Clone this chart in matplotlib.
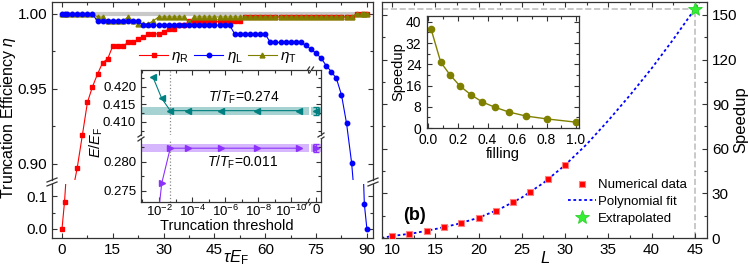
import numpy as np
import matplotlib.pyplot as plt
from matplotlib.lines import Line2D
from matplotlib.ticker import (MultipleLocator, FixedLocator, NullFormatter,
                               FormatStrFormatter, LogFormatterMathtext)

plt.rcParams['font.family'] = ['Liberation Sans', 'DejaVu Sans']
plt.rcParams['mathtext.fontset'] = 'custom'
plt.rcParams['mathtext.rm'] = 'Liberation Sans'
plt.rcParams['mathtext.it'] = 'Liberation Sans:italic'
plt.rcParams['mathtext.bf'] = 'Liberation Sans:bold'
plt.rcParams['axes.linewidth'] = 0.9
plt.rcParams['axes.edgecolor'] = '#333333'

# ---------------- data: left panel (truncation efficiency vs tau*E_F)
tau = [0, 0.75] + list(np.arange(1.5, 88.6, 1.5)) + [89.25, 90]
eta_R = [0.000, 0.083, 0.20, 0.88, 0.8975, 0.919, 0.941, 0.9515, 0.960, 0.9675,
         0.9702, 0.9787, 0.9787, 0.9787, 0.981, 0.981, 0.9833, 0.9845, 0.9867, 0.9867,
         0.9867, 0.9882, 0.9898, 0.9898, 0.9925, 0.9925, 0.995, 0.995, 0.995, 0.995,
         0.995, 0.995, 0.995, 0.995, 0.995, 0.995, 0.995, 0.998, 0.998, 0.998,
         0.998, 0.998, 0.998, 0.998, 0.998, 0.998, 0.998, 0.998, 0.998, 0.998,
         0.998, 0.998, 0.998, 0.998, 0.998, 0.998, 0.998, 0.998, 0.998, 1.000,
         1.000, 1.000, 1.000]
eta_L = [1.000, 1.000, 1.000, 1.000, 1.000, 1.000, 1.000, 1.000, 0.995, 0.995,
         0.995, 0.995, 0.995, 0.995, 0.995, 0.995, 0.995, 0.9925, 0.9925, 0.9925,
         0.9925, 0.9925, 0.9925, 0.9925, 0.9925, 0.9925, 0.9925, 0.9925, 0.9925, 0.9925,
         0.9925, 0.9925, 0.9925, 0.9925, 0.9925, 0.9865, 0.9865, 0.9865, 0.9865, 0.9865,
         0.9865, 0.9865, 0.981, 0.981, 0.981, 0.981, 0.981, 0.981, 0.981, 0.979,
         0.9765, 0.9738, 0.9705, 0.9655, 0.9615, 0.957, 0.946, 0.927, 0.9005, 0.86,
         0.30, 0.075, 0.000]
eta_T = [1.000, 1.000, 1.000, 1.000, 1.000, 1.000, 1.000, 1.000, 0.998, 0.998,
         0.9955, 0.9955, 0.9955, 0.9955, 0.998, 0.9955, 0.9935, 0.9935, 0.9935, 0.9955,
         0.998, 0.998, 0.998, 0.998, 0.998, 0.998, 0.9945, 0.998, 0.998, 0.998,
         0.998, 0.998, 0.998, 0.998, 0.998, 0.998, 0.998, 0.998, 0.998, 0.998,
         0.998, 0.998, 0.998, 0.998, 0.998, 0.998, 0.998, 0.998, 0.998, 0.998,
         0.998, 0.998, 0.998, 0.998, 0.998, 0.998, 0.998, 0.998, 0.998, 1.000,
         1.000, 1.000, 1.000]
eta_ref = 1.0

# inset: energy vs truncation threshold
thr = [2.4e-2, 6.9e-3, 2.1e-3, 1.7e-4, 1.9e-6, 1.2e-8, 3.6e-11]
E_hot = [0.4229, 0.4167, 0.4132, 0.4132, 0.4132, 0.4132, 0.4132]
E_cold = [0.262, 0.2763, 0.2823, 0.2823, 0.2823, 0.2823, 0.2823]
E0_hot, dE0_hot = 0.4131, 0.0012
E0_cold, dE0_cold = 0.2823, 0.0007
thr_chosen = 2.1e-3

# ---------------- data: right panel (speedup vs L)
L_num = [10, 12, 14, 16, 18, 20, 22, 24, 26, 28, 30]
S_num = [1.3, 2.7, 4.9, 7.2, 9.9, 13.2, 18.4, 24.4, 30.9, 39.9, 49.1]
L_fit = [8.8, 10, 12.5, 15, 17.5, 20, 22.5, 25, 27.5, 30, 32.5, 35, 37.5, 40, 42.5, 45, 46.5]
S_fit = [0.0, 1.3, 3.2, 6.0, 9.3, 13.6, 19.6, 27.2, 37.0, 49.0, 63.0, 79.0, 96.0, 114.0, 133.5, 154.0, 167.0]
L_star, S_star = 45, 153.8

# right inset: speedup vs filling
filling = [0.017, 0.083, 0.146, 0.214, 0.288, 0.365, 0.451, 0.546, 0.661, 0.805, 1.0]
speedup_f = [37.4, 24.8, 20.0, 15.8, 12.5, 9.8, 7.8, 6.0, 4.5, 3.4, 2.2]

W, H = 748, 270
fig = plt.figure(figsize=(W / 100, H / 100), dpi=100)


def box(x0, y0, x1, y1):
    # pixel box (top-left origin) -> figure fraction
    return [x0 / W, 1 - y1 / H, (x1 - x0) / W, (y1 - y0) / H]


def P(x, y):
    return x / W, 1 - y / H


def ticks(ax, size=11):
    ax.tick_params(which='both', direction='in', width=0.8, colors='#333333',
                   labelcolor='black', labelsize=size)
    ax.tick_params(which='major', length=3.5)
    ax.tick_params(which='minor', length=2)


def brk(x, y, vertical_spine=True, s=5):
    # two short slanted strokes on a spine, pixel coords
    for d in (-2, 2):
        if vertical_spine:
            xs, ys = [x - s, x + s], [y + d + 2, y + d - 2]
        else:
            xs, ys = [x + d - 2, x + d + 2], [y + s, y - s]
        p = [P(a, b) for a, b in zip(xs, ys)]
        fig.add_artist(Line2D([p[0][0], p[1][0]], [p[0][1], p[1][1]],
                              color='#333333', lw=0.9))


# ---------------- left panel
ax_up = fig.add_axes(box(52, 1.5, 373, 180))
ax_lo = fig.add_axes(box(52, 184, 373, 238))
for ax in (ax_up, ax_lo):
    ax.hlines(eta_ref, tau[0], tau[-1], color='#c8c8c8', lw=3, zorder=1)
    lr, = ax.plot(tau, eta_R, 's-', color='red', ms=3, lw=0.8, zorder=2)
    lt, = ax.plot(tau, eta_T, '^-', color='#808000', ms=3.5, lw=0.8, zorder=3)
    ll, = ax.plot(tau, eta_L, 'o-', color='blue', ms=3.2, lw=0.8, zorder=4)
    ax.set_xlim(-2.95, 91.8)
    ax.xaxis.set_major_locator(MultipleLocator(15))
    ax.xaxis.set_minor_locator(MultipleLocator(7.5))
    ticks(ax)

ax_up.set_ylim(0.8893, 1.0083)
ax_up.yaxis.set_major_locator(MultipleLocator(0.05))
ax_up.yaxis.set_minor_locator(MultipleLocator(0.025))
ax_up.yaxis.set_major_formatter(FormatStrFormatter('%.2f'))
ax_up.spines['bottom'].set_visible(False)
ax_up.tick_params(which='both', bottom=False, labelbottom=False, top=True, right=True)

ax_lo.set_ylim(-0.0273, 0.1364)
ax_lo.yaxis.set_major_locator(MultipleLocator(0.1))
ax_lo.yaxis.set_minor_locator(MultipleLocator(0.05))
ax_lo.yaxis.set_major_formatter(FormatStrFormatter('%.1f'))
ax_lo.spines['top'].set_visible(False)
ax_lo.tick_params(which='both', top=False, right=True)

brk(52, 182)
brk(373, 182)

ax_up.legend([lr, ll, lt], [r'$\eta_{\rm R}$', r'$\eta_{\rm L}$', r'$\eta_{\rm T}$'],
             ncol=3, loc='center', bbox_to_anchor=P(218, 57),
             bbox_transform=fig.transFigure, frameon=False, fontsize=11,
             handlelength=1.9, columnspacing=0.35, handletextpad=0.2,
             borderpad=0)

fig.text(*P(9, 117), r'Truncation Efficiency $\eta$', rotation=90,
         ha='center', va='center', fontsize=11.5)
fig.text(*P(236, 258), r'$\tau E_{\rm F}$', ha='center', va='center', fontsize=12)

# ---------------- left inset (broken in x and y)
teal, purple = '#008080', '#8c32fa'
iu = fig.add_axes(box(141, 70, 308.5, 135))
il = fig.add_axes(box(141, 139, 308.5, 202))
iur = fig.add_axes(box(310.5, 70, 321, 135))
ilr = fig.add_axes(box(310.5, 139, 321, 202))
for ax in (iu, il, iur, ilr):
    ax.set_zorder(5)
    ax.set_facecolor('white')
    ticks(ax, 9.5)
    ax.tick_params(axis='x', pad=1.5)

iu.plot(thr, E_hot, '<-', color=teal, ms=4, lw=0.8, zorder=3)
il.plot(thr, E_cold, '>-', color=purple, ms=4, lw=0.8, zorder=3)
iu.axhspan(E0_hot - dE0_hot, E0_hot + dE0_hot, color=teal, alpha=0.35, lw=0)
il.axhspan(E0_cold - dE0_cold, E0_cold + dE0_cold, color=purple, alpha=0.35, lw=0)
iur.axhspan(E0_hot - dE0_hot, E0_hot + dE0_hot, color=teal, alpha=0.35, lw=0)
ilr.axhspan(E0_cold - dE0_cold, E0_cold + dE0_cold, color=purple, alpha=0.35, lw=0)
iur.errorbar([0], [E0_hot], yerr=[dE0_hot], fmt='<', color=teal, ms=4,
             capsize=2, elinewidth=0.8)
ilr.errorbar([0], [E0_cold], yerr=[dE0_cold], fmt='>', color=purple, ms=4,
             capsize=2, elinewidth=0.8)
for ax in (iu, il):
    ax.axvline(thr_chosen, color='#888888', ls=':', lw=0.9, zorder=1)
    ax.set_xscale('log')
    ax.set_xlim(10 ** -0.91, 10 ** -11.03)
    ax.xaxis.set_major_locator(FixedLocator([1e-2, 1e-4, 1e-6, 1e-8, 1e-10]))
    ax.xaxis.set_minor_locator(FixedLocator([1e-1, 1e-3, 1e-5, 1e-7, 1e-9, 1e-11]))
    ax.xaxis.set_major_formatter(LogFormatterMathtext())
    ax.xaxis.set_minor_formatter(NullFormatter())
    ax.spines['right'].set_visible(False)
for ax in (iur, ilr):
    ax.set_xlim(-1.1, 0.9)
    ax.xaxis.set_major_locator(FixedLocator([0]))
    ax.spines['left'].set_visible(False)
    ax.tick_params(which='both', left=False, labelleft=False, right=True)

iu.set_ylim(0.40625, 0.4248)
iur.set_ylim(0.40625, 0.4248)
il.set_ylim(0.27312, 0.28387)
ilr.set_ylim(0.27312, 0.28387)
for ax in (iu, iur):
    ax.yaxis.set_major_locator(MultipleLocator(0.005))
    ax.yaxis.set_minor_locator(MultipleLocator(0.0025))
    ax.spines['bottom'].set_visible(False)
    ax.tick_params(which='both', bottom=False, labelbottom=False, top=True)
for ax in (il, ilr):
    ax.yaxis.set_major_locator(MultipleLocator(0.005))
    ax.yaxis.set_minor_locator(MultipleLocator(0.0025))
    ax.spines['top'].set_visible(False)
    ax.tick_params(which='both', top=False)
iu.yaxis.set_major_formatter(FormatStrFormatter('%.3f'))
il.yaxis.set_major_formatter(FormatStrFormatter('%.3f'))
iu.tick_params(right=False)
il.tick_params(right=False)

brk(141, 137, s=3)
brk(321, 137, s=3)
brk(309.5, 70, vertical_spine=False, s=3)
brk(309.5, 202, vertical_spine=False, s=3)

fig.text(*P(244, 97), r'$T/T_{\rm F}$=0.274', ha='center', va='center', fontsize=10, zorder=10)
fig.text(*P(243, 162), r'$T/T_{\rm F}$=0.011', ha='center', va='center', fontsize=10, zorder=10)
fig.text(*P(227, 226), 'Truncation threshold', ha='center', va='center', fontsize=10.5, zorder=10)
fig.text(*P(96, 142), r'$E/E_{\rm F}$', rotation=90, ha='center', va='center', fontsize=10.5, zorder=10)

# ---------------- right panel
axr = fig.add_axes(box(382, 1.5, 707, 238))
axr.set_xlim(8.85, 46.4)
axr.set_ylim(0, 159)
x0 = axr.get_xlim()[0]
axr.plot([x0, L_star], [S_star, S_star], color='#c0c0c0', ls='--', lw=1.2, zorder=1)
axr.plot([L_star, L_star], [0, S_star], color='#c0c0c0', ls='--', lw=1.2, zorder=1)
hf, = axr.plot(L_fit, S_fit, color='blue', ls=(0, (1.5, 1.5)), lw=1.3, zorder=2)
hn, = axr.plot(L_num, S_num, 's', color='red', ms=5, mec='#ff8080', mew=0.8, zorder=3)
hs, = axr.plot([L_star], [S_star], '*', color='#33ee33', ms=10, mec='#22cc22', mew=0.5, zorder=4)
axr.xaxis.set_major_locator(MultipleLocator(5))
axr.xaxis.set_minor_locator(MultipleLocator(2.5))
axr.yaxis.set_major_locator(MultipleLocator(30))
axr.yaxis.set_minor_locator(MultipleLocator(15))
ticks(axr)
axr.tick_params(which='both', top=True, left=True, right=True, labelleft=False, labelright=True)
fig.text(*P(741, 120), 'Speedup', rotation=90, ha='center', va='center', fontsize=12)
fig.text(*P(545, 258), r'$L$', ha='center', va='center', fontsize=12)
fig.text(*P(415, 215), '(b)', ha='center', va='center', fontsize=13, fontweight='bold')

axr.legend([hn, hf, hs], ['Numerical data', 'Polynomial fit', 'Extrapolated'],
           loc='upper left', bbox_to_anchor=P(568, 179), bbox_transform=fig.transFigure,
           frameon=False, fontsize=9.5, handlelength=2.1, handletextpad=0.2,
           borderpad=0, borderaxespad=0, labelspacing=0.35)

# right inset
ai = fig.add_axes(box(427, 16, 579, 128))
ai.set_zorder(5)
ai.plot(filling, speedup_f, 'o-', color='#808000', ms=4.5, lw=1)
ai.set_xlim(-0.01, 1.02)
ai.set_ylim(0, 42.2)
ai.xaxis.set_major_locator(MultipleLocator(0.2))
ai.xaxis.set_minor_locator(MultipleLocator(0.1))
ai.xaxis.set_major_formatter(FormatStrFormatter('%.1f'))
ai.yaxis.set_major_locator(MultipleLocator(8))
ai.yaxis.set_minor_locator(MultipleLocator(4))
ticks(ai, 10)
ai.tick_params(which='both', top=True, right=True)
ai.tick_params(axis='x', pad=3.5)
ai.tick_params(axis='y', pad=4)
ai.set_xlabel('filling', fontsize=10.5, labelpad=0)
ai.set_ylabel('Speedup', fontsize=10.5, labelpad=0)

fig.savefig('out.png', dpi=100)
